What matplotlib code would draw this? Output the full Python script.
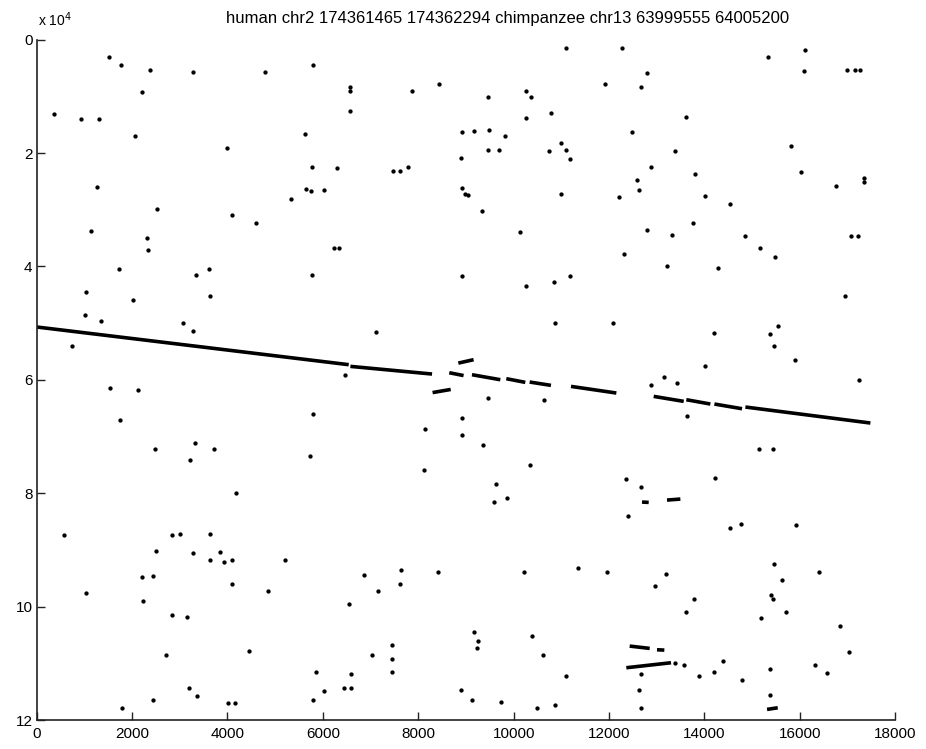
import matplotlib
matplotlib.use("Agg")
import matplotlib.pyplot as plt
from matplotlib.ticker import FuncFormatter

plt.rcParams["font.family"] = ["Liberation Sans", "DejaVu Sans"]

TITLE = "human chr2 174361465 174362294 chimpanzee chr13 63999555 64005200"

# Isolated word hits: human position (x) vs chimpanzee position (y)
hit_x = [
    1524, 1768, 2377, 3271, 4795, 5802, 2209, 6571, 6571, 7878, 8444, 6578, 363, 923,
    1300, 2069, 3984, 5620, 8912, 8891, 5767, 6305, 7465, 7619, 7794, 1272, 5648, 5746,
    6025, 5326, 8912, 8975, 2516, 4096, 4600, 1146, 2307, 2328, 6242, 6347,
    11104, 12278, 15333, 16116, 16081, 16990, 17164, 17269, 12796, 11922, 12663, 9454,
    10265, 10356, 10789, 10265, 13613, 9175, 9489, 9811, 12474, 9454, 9685, 10985, 11090,
    10734, 11174, 13383, 15815, 12887, 13809, 12593, 16032, 17339, 17339, 16752, 12628,
    12215, 14005, 9035, 10999, 9329, 14536, 10132, 13767, 12789, 13327, 14851, 17073,
    17213, 15172, 15487, 12313,
    1719, 3340, 3613, 5780, 8918, 1034, 3634, 2026, 1020, 1341, 3061, 3270, 7122, 733,
    6472, 1544, 2124, 1754, 5801, 8142, 8918, 8918, 2480, 3319, 3718, 3207, 5738, 8114,
    13215, 14291, 10251, 10852, 11188, 16948, 10866, 12076, 14208, 15368, 15536, 15452,
    15906, 14012, 12880, 13152, 13432, 17248, 9454, 10636, 13641, 9350, 10349, 9622,
    15151, 15438, 12348, 12670, 14221,
    4186, 579, 2830, 2998, 3641, 2508, 3284, 3843, 3641, 3920, 4095, 5213, 2215, 2439,
    4088, 4857, 1034, 2229, 2830, 3158, 2718, 4459, 6870, 7639, 8415, 7150, 7611, 6549,
    7443, 7031, 7443, 7443, 5850, 6584, 6444, 6584, 6024, 5801, 3193, 3361, 2446, 4018,
    4158, 1781, 8897,
    9580, 9860, 12397, 14543, 14774, 15913, 10209, 11356, 11964, 13201, 12970, 15459,
    15634, 16395, 15403, 15438, 15710, 13788, 13607, 15179, 16850, 9161, 9252, 9231,
    10391, 10615, 11097, 17032, 14382, 14194, 13893, 14781, 15382, 16312, 16570, 12670,
    12628, 12670, 15382, 9133, 9734, 10489, 10859, 13390, 13564,
]
hit_y = [
    3070, 4480, 5420, 5720, 5720, 4480, 9240, 8300, 9070, 9130, 7830, 12540, 13180, 13950,
    13950, 17060, 19060, 16710, 16300, 20950, 22420, 22710, 23120, 23120, 22470, 25940,
    26410, 26650, 26530, 28180, 26240, 27300, 29880, 31000, 32410, 33760, 35060, 37180,
    36700, 36700,
    1540, 1540, 3070, 1830, 5480, 5360, 5360, 5360, 5830, 7830, 8420, 10180, 9130, 10180,
    12950, 13890, 13600, 16060, 16010, 17060, 16360, 19420, 19420, 18300, 19420, 19710,
    21060, 19710, 18710, 22470, 23710, 24770, 23420, 24470, 25180, 25830, 26590, 27820,
    27530, 27410, 27240, 30240, 29000, 33940, 32290, 33650, 34410, 34700, 34700, 34700,
    36700, 38350, 37880,
    40460, 41580, 40460, 41580, 41750, 44570, 45160, 45870, 48630, 49690, 49980, 51450,
    51630, 54040, 59220, 61450, 61860, 67150, 66040, 68620, 66740, 69800, 72150, 71150,
    72150, 74210, 73500, 75860,
    39870, 40280, 43520, 42810, 41750, 45160, 50040, 50040, 51750, 51980, 50450, 54040,
    56570, 57510, 60860, 59570, 60570, 59980, 63270, 63630, 66330, 71560, 75090, 78330,
    72150, 72150, 77500, 78910, 77380,
    79910, 87440, 87440, 87150, 87150, 90200, 90500, 90320, 91790, 92200, 91790, 91790,
    94850, 94670, 95970, 97260, 97670, 99020, 101550, 101790, 108490, 107900, 94500,
    93560, 93850, 97260, 96030, 99610, 106840, 108550, 109310, 111550, 111550, 111900,
    114430, 114430, 114960, 116430, 114310, 115720, 116430, 117020, 117020, 117900,
    114720,
    81560, 80910, 84030, 86210, 85380, 85680, 93910, 93200, 93850, 94320, 96320, 92500,
    95320, 93910, 97910, 98670, 100910, 98730, 100910, 102080, 103430, 104550, 106140,
    107260, 105140, 108610, 112310, 107960, 109670, 111550, 112310, 113020, 111080,
    110250, 111670, 111900, 114720, 117900, 115660, 116490, 116840, 117960, 117370,
    109960, 110370,
]

# Runs of consecutive matches (start / end of each run)
run_x0 = [6, 6577, 8650, 8840, 8300, 9126, 9846, 10335, 11202, 12935, 13620, 14208,
          14858, 12691, 13215, 12432, 13005, 12362, 15312]
run_x1 = [6542, 8289, 8950, 9160, 8680, 9720, 10244, 10782, 12153, 13565, 14124, 14788,
          17479, 12831, 13495, 12852, 13159, 13299, 15536]
run_y0 = [50690, 57630, 58750, 57050, 62250, 59100, 59800, 60390, 61160, 62920, 63510,
          64270, 64800, 81560, 81210, 106960, 107610, 110780, 118130]
run_y1 = [57330, 58980, 59250, 56450, 61700, 59980, 60450, 60980, 62330, 63800, 64270,
          65100, 67620, 81620, 81030, 107370, 107670, 109900, 117840]

x_ticks = list(range(0, 18001, 2000))
y_ticks = list(range(0, 120001, 20000))

fig = plt.figure(figsize=(9.26, 7.49), dpi=100)
ax = fig.add_axes([0.0396, 0.0387, 0.9272, 0.9084])

ax.plot(hit_x, hit_y, linestyle="none", marker="o", markersize=3.1,
        color="black", markeredgewidth=0)
for x0, x1, y0, y1 in zip(run_x0, run_x1, run_y0, run_y1):
    ax.plot([x0, x1], [y0, y1], color="black", linewidth=2.6,
            solid_capstyle="butt")

ax.set_xlim(0, 18000)
ax.set_ylim(120000, 0)
ax.set_xticks(x_ticks)
ax.set_yticks(y_ticks)
ax.yaxis.set_major_formatter(FuncFormatter(lambda v, p: f"{v / 1e4:g}"))

for side in ("top", "right"):
    ax.spines[side].set_visible(False)
for side in ("left", "bottom"):
    ax.spines[side].set_linewidth(1.2)
    ax.spines[side].set_color("#222222")

ax.tick_params(direction="in", length=6, width=1.0, labelsize=11,
               color="#222222")
ax.tick_params(axis="x", pad=5)
ax.tick_params(axis="y", pad=3)

fig.text(508 / 926, 1 - 23 / 749, TITLE, fontsize=12, ha="center",
         va="baseline")
fig.text(38 / 926, 1 - 26 / 749, r"x 10$^4$", fontsize=10, ha="left",
         va="baseline")

fig.savefig("out.png", dpi=100)
